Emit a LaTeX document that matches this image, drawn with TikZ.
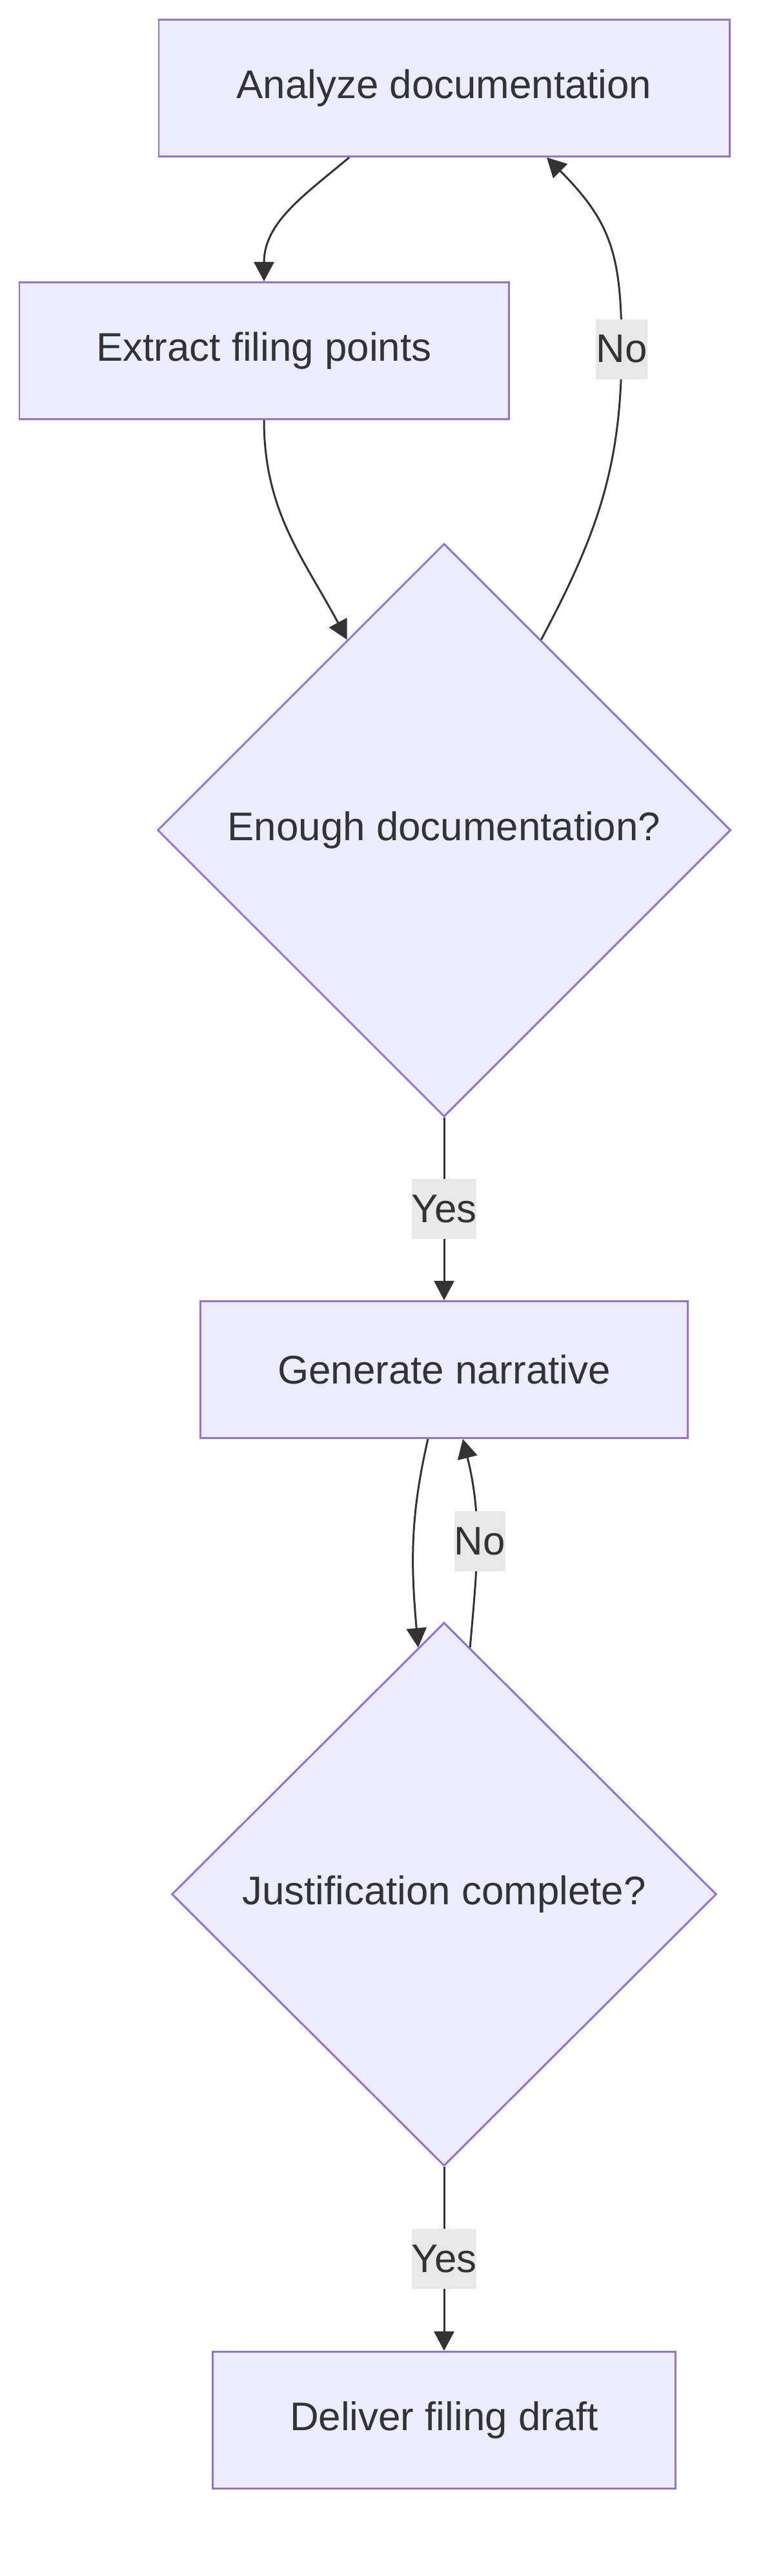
\documentclass[tikz,border=0pt]{standalone}
\usepackage{fontspec}
\setmainfont{Liberation Sans}
\usepackage{xcolor}
\usetikzlibrary{positioning,arrows.meta,calc,shapes.geometric}
\definecolor{nodefill}{HTML}{ECECFF}
\definecolor{nodeline}{HTML}{9370DB}
\definecolor{ink}{HTML}{333333}
\definecolor{labelbg}{HTML}{E8E8E8}

\begin{document}
\begin{tikzpicture}[
    block/.style={draw=nodeline, line width=0.85pt, fill=nodefill, minimum height=2.12cm, align=center, text=ink, font=\fontsize{17.6}{21}\selectfont},
    decision/.style={diamond, aspect=1, draw=nodeline, line width=0.85pt, fill=nodefill, inner sep=0pt, align=center, text=ink, font=\fontsize{17.6}{21}\selectfont},
    arr/.style={-{Triangle[length=3mm, width=3.1mm]}, line width=0.85pt, draw=ink},
    lbl/.style={fill=labelbg, inner xsep=0pt, inner ysep=0pt, minimum height=0.93cm, text=ink, font=\fontsize{17.6}{21}\selectfont}
]
    \useasboundingbox (0,0) rectangle (11.96,-39.92);
    \node[block, minimum width=8.84cm] (ana) at (6.88,-1.365) {Analyze documentation};
    \node[block, minimum width=7.58cm, below=1.92cm of ana, xshift=-2.79cm] (ext) {Extract filing points};
    \node[decision, minimum width=8.88cm, minimum height=8.88cm, below=1.90cm of ext, xshift=2.79cm] (enough) {Enough documentation?};
    \node[block, minimum width=7.55cm, below=2.83cm of enough] (gen) {Generate narrative};
    \node[decision, minimum width=8.44cm, minimum height=8.42cm, below=2.83cm of gen] (just) {Justification complete?};
    \node[block, minimum width=7.17cm, below=2.85cm of just] (del) {Deliver filing draft};

    \draw[arr] ([xshift=-1.47cm]ana.south) to[out=-140, in=90] (ext.north);
    \draw[arr] (ext.south) to[out=-90, in=118] (enough.117);
    \coordinate (nobend) at (9.63,-5.41);
    \draw[arr] (enough.63) to[out=62, in=-90] (nobend) to[out=90, in=-45, looseness=1.15] ([xshift=1.59cm]ana.south);
    \node[lbl] (no1) at (nobend) {No};
    \draw[arr] (enough.south) -- node[lbl] (yes1) {Yes} (gen.north);
    \draw[arr] ([xshift=-0.25cm]gen.south) to[out=-103, in=95] (just.96);
    \draw[arr] (just.84) to[out=85, in=-76] ([xshift=0.29cm]gen.south);
    \node[lbl] (no2) at (7.435,-23.88) {No};
    \draw[arr] (just.south) -- node[lbl] (yes2) {Yes} (del.north);
\end{tikzpicture}
\end{document}
